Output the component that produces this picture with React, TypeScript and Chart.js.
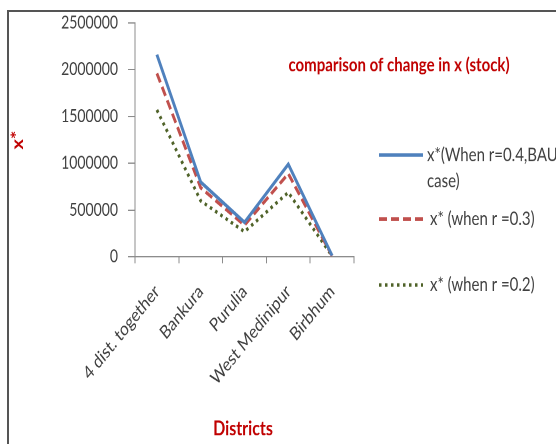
import React, { useEffect, useRef } from "react";
import { Chart, registerables } from "chart.js";

Chart.register(...registerables);

// Districts on the category axis
const districts = ["4 dist. together", "Bankura", "Purulia", "West Medinipur", "Birbhum"];

// Equilibrium stock x* for each growth rate r
const stockR04 = [2160000, 800000, 370000, 990000, 15000];
const stockR03 = [1960000, 740000, 340000, 890000, 12000];
const stockR02 = [1570000, 600000, 270000, 690000, 10000];

const seriesLabels = ["x*(When r=0.4,BAU case)", "x* (when r =0.3)", "x* (when r =0.2)"];

const yTicks = [0, 500000, 1000000, 1500000, 2000000, 2500000];

const chartTitle = "comparison of change in x (stock)";
const xTitle = "Districts";
const yTitle = "x*";

const FONT = "Lato, 'Open Sans', sans-serif";
const RED = "#c00000";
const TEXT = "#404040";
const AXIS = "#8c8c8c";

// The chart is laid out on a 556x358 canvas and shown stretched to 556x444,
// which gives the tall, narrow lettering of the printed figure.
const W = 556;
const H = 358;
const SHOW_H = 444;
const S = SHOW_H / H;
const py = (y: number) => y / S;

function wrapText(ctx: CanvasRenderingContext2D, text: string, maxWidth: number): string[] {
  const words = text.split(" ");
  const lines: string[] = [];
  let cur = "";
  for (const w of words) {
    const test = cur ? cur + " " + w : w;
    if (cur && ctx.measureText(test).width > maxWidth) {
      lines.push(cur);
      cur = w;
    } else {
      cur = test;
    }
  }
  if (cur) lines.push(cur);
  return lines;
}

// Draws the in-plot title, the axis titles and the right-hand legend
const annotations = {
  id: "annotations",
  afterDraw(chart: any) {
    const ctx: CanvasRenderingContext2D = chart.ctx;
    ctx.save();

    ctx.fillStyle = RED;
    ctx.textAlign = "center";
    ctx.textBaseline = "middle";
    ctx.font = `bold 15px ${FONT}`;
    ctx.fillText(chartTitle, 399, py(65));

    ctx.font = `bold 16px ${FONT}`;
    ctx.fillText(xTitle, 243, py(429));

    ctx.save();
    ctx.translate(18, py(140));
    ctx.rotate(-Math.PI / 2);
    ctx.fillText(yTitle, 0, 0);
    ctx.restore();

    // legend
    const rows = [py(155), py(219), py(285)];
    ctx.font = `15px ${FONT}`;
    ctx.textAlign = "left";
    chart.data.datasets.forEach((ds: any, i: number) => {
      const y = rows[i];
      ctx.save();
      ctx.strokeStyle = ds.borderColor;
      ctx.lineWidth = ds.borderWidth;
      ctx.setLineDash(ds.borderDash || []);
      ctx.beginPath();
      ctx.moveTo(379, y);
      ctx.lineTo(423, y);
      ctx.stroke();
      ctx.restore();
      ctx.fillStyle = TEXT;
      const lines = wrapText(ctx, ds.label, 150);
      lines.forEach((ln, k) => ctx.fillText(ln, i === 0 ? 427 : 430, y + k * py(26)));
    });

    ctx.restore();
  },
};

export default function App() {
  const canvasRef = useRef<HTMLCanvasElement | null>(null);

  useEffect(() => {
    if (!canvasRef.current) return;
    const chart = new Chart(canvasRef.current, {
      type: "line",
      data: {
        labels: districts,
        datasets: [
          {
            label: seriesLabels[0],
            data: stockR04,
            borderColor: "#4f81bd",
            backgroundColor: "#4f81bd",
            borderWidth: 2.8,
            pointRadius: 0,
            tension: 0,
          },
          {
            label: seriesLabels[1],
            data: stockR03,
            borderColor: "#c0504d",
            backgroundColor: "#c0504d",
            borderWidth: 2.8,
            borderDash: [8, 4],
            pointRadius: 0,
            tension: 0,
          },
          {
            label: seriesLabels[2],
            data: stockR02,
            borderColor: "#4f6228",
            backgroundColor: "#4f6228",
            borderWidth: 2.8,
            borderDash: [2.5, 3.5],
            pointRadius: 0,
            tension: 0,
          },
        ],
      },
      options: {
        responsive: false,
        maintainAspectRatio: false,
        devicePixelRatio: 2,
        animation: false,
        layout: { padding: { left: 0, top: py(21), right: W - 354, bottom: 0 } },
        plugins: {
          legend: { display: false },
          title: { display: false },
          tooltip: { enabled: false },
        },
        scales: {
          x: {
            type: "category",
            offset: true,
            grid: { drawOnChartArea: false, drawTicks: true, tickLength: 5, color: AXIS, offset: true },
            border: { display: true, color: AXIS, width: 1 },
            ticks: {
              minRotation: 45,
              maxRotation: 45,
              padding: 14,
              color: TEXT,
              font: { family: FONT, size: 15 },
            },
            afterFit: (s: any) => {
              s.height = H - py(257);
            },
          },
          y: {
            min: 0,
            max: 2500000,
            afterBuildTicks: (s: any) => {
              s.ticks = yTicks.map((v) => ({ value: v }));
            },
            grid: { drawOnChartArea: false, drawTicks: true, tickLength: 7, color: AXIS },
            border: { display: true, color: AXIS, width: 1 },
            ticks: {
              padding: 10,
              color: TEXT,
              font: { family: FONT, size: 14 },
              callback: (v: any) => String(v),
            },
            afterFit: (s: any) => {
              s.width = 135;
            },
          },
        },
      },
      plugins: [annotations],
    });
    return () => chart.destroy();
  }, []);

  return (
    <div style={{ position: "absolute", left: 0, top: 0, width: W, height: SHOW_H, overflow: "hidden", background: "#fff" }}>
      <div
        style={{
          position: "absolute",
          left: 7,
          top: 10,
          width: 600,
          height: 500,
          borderLeft: "2px solid #555",
          borderTop: "2px solid #555",
        }}
      />
      <canvas
        ref={canvasRef}
        width={W}
        height={H}
        style={{ position: "absolute", left: 0, top: 0, width: W + "px", height: SHOW_H + "px" }}
      />
    </div>
  );
}
